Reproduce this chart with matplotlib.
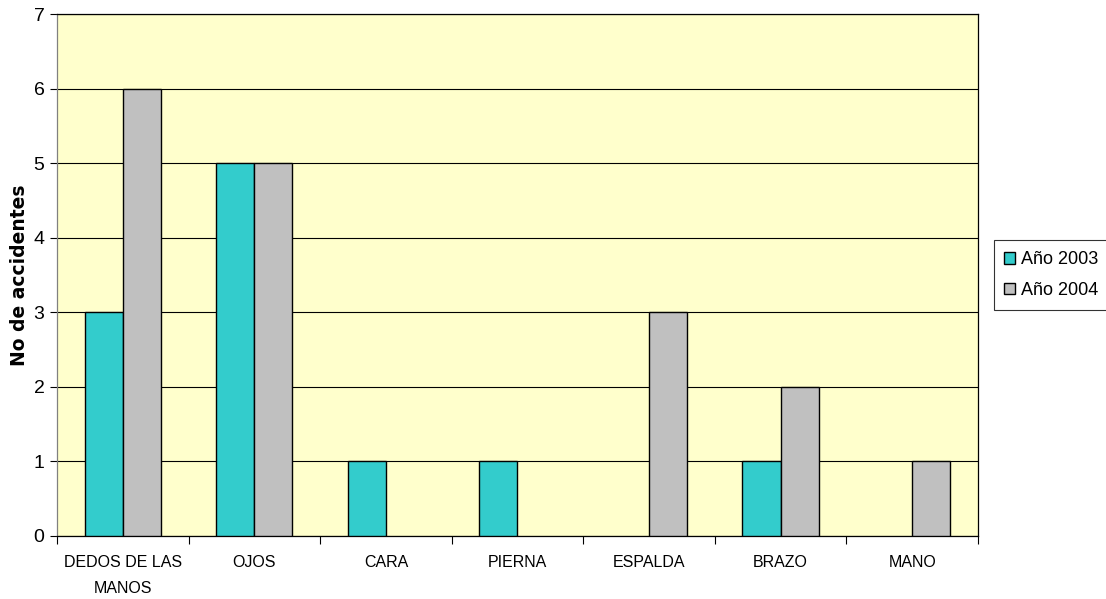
import numpy as np
import matplotlib.pyplot as plt

plt.rcParams['font.family'] = ['Liberation Sans', 'DejaVu Sans']

categorias = ["DEDOS DE LAS\nMANOS", "OJOS", "CARA", "PIERNA", "ESPALDA", "BRAZO", "MANO"]
anio_2003 = [3, 5, 1, 1, 0, 1, 0]
anio_2004 = [6, 5, 0, 0, 3, 2, 1]
series = ["Año 2003", "Año 2004"]
colores = ["#33CCCC", "#C0C0C0"]

fig = plt.figure(figsize=(11.06, 5.99), dpi=100)
ax = fig.add_axes([0.0515, 0.1052, 0.8327, 0.8714])
ax.set_facecolor("#FFFFCC")

x = np.arange(len(categorias))
w = 0.29
for i, (vals, lab, col) in enumerate(zip([anio_2003, anio_2004], series, colores)):
    pos = x - w / 2 + i * w
    keep = [j for j, v in enumerate(vals) if v > 0]
    ax.bar(pos[keep], [vals[j] for j in keep], width=w, color=col,
           edgecolor="black", linewidth=1.0, label=lab, zorder=3)

ax.set_xlim(-0.5, len(categorias) - 0.5)
ax.set_ylim(0, 7)
ax.set_yticks(range(0, 8))
ax.yaxis.grid(True, color="black", linewidth=0.8, zorder=1)
ax.set_axisbelow(True)

# ticks at category boundaries, labels centred under each group
ax.set_xticks(np.arange(-0.5, len(categorias)), minor=False)
ax.set_xticklabels([])
ax.set_xticks(x, minor=True)
ax.set_xticklabels(categorias, minor=True, fontsize=11.5)
ax.tick_params(axis="x", which="minor", length=0, pad=14)
ax.tick_params(axis="x", which="major", length=6, color="black")
ax.tick_params(axis="y", length=5, labelsize=14, pad=4)
for lbl in ax.get_xticklabels(minor=True):
    lbl.set_linespacing(1.9)
    lbl.set_va("top")

for s in ax.spines.values():
    s.set_color("black")
    s.set_linewidth(0.9)
ax.spines["left"].set_color("#808080")

ax.set_ylabel("No de accidentes", fontsize=13.5, fontweight="bold", labelpad=3,
              family=['DejaVu Sans'])

leg = ax.legend(loc="center left", bbox_to_anchor=(1.017, 0.5), fontsize=13,
                frameon=True, fancybox=False, edgecolor="black",
                handlelength=0.6, handleheight=0.6, handletextpad=0.3,
                labelspacing=0.75, borderpad=0.6, borderaxespad=0)
leg.get_frame().set_linewidth(0.8)

fig.savefig("out.png", dpi=100)
